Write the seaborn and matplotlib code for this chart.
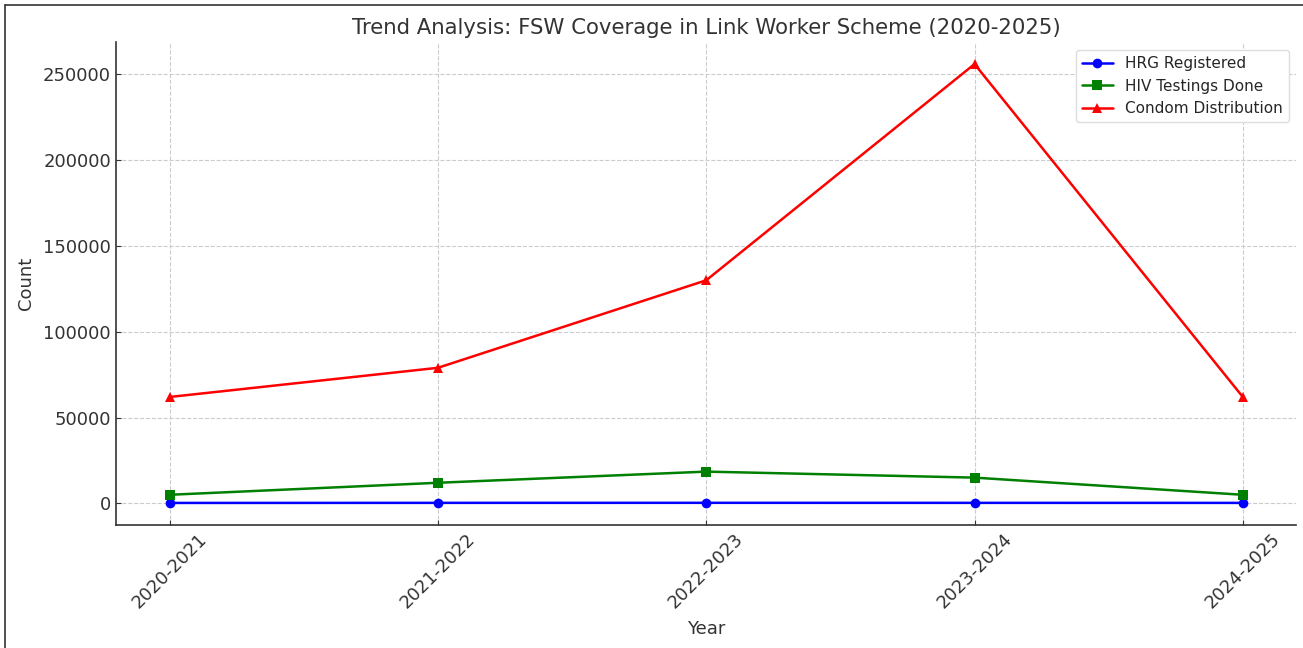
import matplotlib
matplotlib.use("Agg")
import matplotlib.pyplot as plt
import pandas as pd
import seaborn as sns
from matplotlib.lines import Line2D

# values
years = ["2020-2021", "2021-2022", "2022-2023", "2023-2024", "2024-2025"]
hrg_registered = [250, 300, 320, 300, 280]
hiv_testings = [5000, 12000, 18500, 15000, 5000]
condom_distribution = [62000, 79000, 130000, 256000, 62000]

series_names = ["HRG Registered", "HIV Testings Done", "Condom Distribution"]
series_colors = ["blue", "green", "red"]
series_markers = ["o", "s", "^"]

df = pd.DataFrame({
    "Year": years * 3,
    "Count": hrg_registered + hiv_testings + condom_distribution,
    "Series": [s for s in series_names for _ in years],
})

sns.set_style("ticks")
plt.rcParams["font.family"] = ["DejaVu Sans"]

fig = plt.figure(figsize=(13.03, 6.48), dpi=100)
ax = fig.add_axes([0.089, 0.19, 0.906, 0.745])

sns.lineplot(data=df, x="Year", y="Count", hue="Series", style="Series",
             palette=dict(zip(series_names, series_colors)),
             markers=dict(zip(series_names, series_markers)),
             dashes=False, markersize=7, linewidth=1.8,
             markeredgewidth=0, ax=ax)

ax.set_title("Trend Analysis: FSW Coverage in Link Worker Scheme (2020-2025)",
             fontsize=15.3, color="#333333")
ax.set_xlabel("Year", fontsize=13, color="#333333", labelpad=6)
ax.set_ylabel("Count", fontsize=13, color="#333333", labelpad=6)
ax.tick_params(axis="both", direction="in", labelsize=13, colors="#333333")
plt.setp(ax.get_xticklabels(), rotation=45)
ax.grid(True, linestyle="--", color="#cccccc", linewidth=0.8)
sns.despine(ax=ax)
for s in ["left", "bottom"]:
    ax.spines[s].set_color("#333333")
    ax.spines[s].set_linewidth(1.2)

ax.legend(loc="upper right", fontsize=11, title=None, framealpha=1,
          edgecolor="#dddddd")

# border of the original screenshot (top and left edges)
fig.add_artist(Line2D([0.004, 1.0], [0.993, 0.993], color="#333333", linewidth=1.2))
fig.add_artist(Line2D([0.004, 0.004], [0.0, 0.993], color="#333333", linewidth=1.2))

fig.savefig("out.png", dpi=100)
